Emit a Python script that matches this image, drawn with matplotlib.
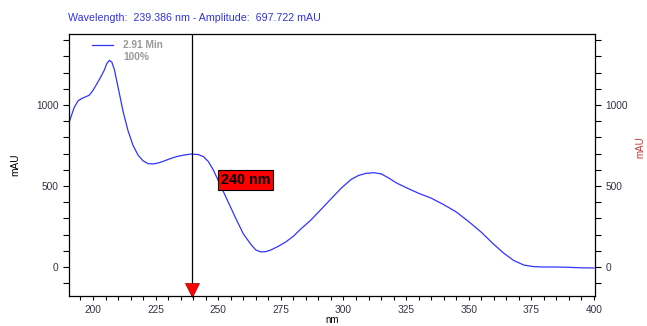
import matplotlib
matplotlib.use("Agg")
import matplotlib.pyplot as plt
import numpy as np
from matplotlib.ticker import MultipleLocator

plt.rcParams["font.family"] = ["Liberation Sans", "DejaVu Sans"]

# spectrum
wavelength = [190.4, 191.5, 192.5, 194, 195.5, 197, 198.5, 200, 201.5, 203, 204.5, 205.5,
              206.5, 207.5, 208.5, 210, 212, 214, 216, 218, 220, 222, 224, 226, 228,
              230, 233, 236, 239, 242, 244, 246, 248, 251, 254, 257, 260, 263, 265,
              267, 269, 271, 274, 277, 280, 283, 287, 291, 295, 299, 303, 306, 309,
              312, 315, 318, 321, 325, 330, 335, 340, 345, 350, 355, 360, 364, 368,
              372, 376, 380, 385, 390, 395, 400]
amplitude = [889, 940, 985, 1025, 1040, 1050, 1060, 1090, 1130, 1170, 1215, 1255,
             1275, 1265, 1220, 1110, 960, 840, 750, 690, 655, 638, 636, 642, 652,
             664, 680, 690, 697, 694, 682, 652, 600, 500, 400, 300, 205, 140, 105,
             93, 95, 105, 128, 155, 190, 235, 290, 355, 420, 485, 540, 565, 578,
             582, 575, 550, 520, 490, 455, 425, 385, 340, 280, 215, 140, 85, 40,
             12, 2, 0, 0, -2, -5, -6]

cursor_nm = 239.386
title_text = "Wavelength:  239.386 nm - Amplitude:  697.722 mAU"
legend_lines = ["2.91 Min", "100%"]

fig = plt.figure(figsize=(6.47, 3.26), dpi=100)
ax = fig.add_axes([0.1066, 0.092, 0.813, 0.8037])

ax.plot(wavelength, amplitude, color="#3333ff", lw=0.9)
ax.set_xlim(190.4, 400.4)
ax.set_ylim(-179, 1438)

ax.axvline(cursor_nm, color="black", lw=0.9)
ax.plot([cursor_nm], [-140], marker="v", color="#ff0000", markersize=10,
        markeredgecolor="#990000", markeredgewidth=0.5, clip_on=False)
ax.text(251, 512, "240 nm", fontsize=10.3, fontweight="bold", color="black",
        bbox=dict(boxstyle="square,pad=0.18", fc="#ff0000", ec="black", lw=0.8))

ax.xaxis.set_major_locator(MultipleLocator(25))
ax.xaxis.set_minor_locator(MultipleLocator(5))
ax.yaxis.set_major_locator(MultipleLocator(500))
ax.yaxis.set_minor_locator(MultipleLocator(100))
ax.tick_params(axis="both", which="both", labelsize=7.3, labelcolor="#333344",
               direction="out", length=3, width=0.8)
ax.tick_params(axis="y", which="both", right=True, labelright=True, length=4)
ax.tick_params(axis="x", which="both", top=False)
for s in ax.spines.values():
    s.set_linewidth(0.9)

ax.set_ylabel("mAU", fontsize=7.3, labelpad=11)
ax.set_xlabel("nm", fontsize=7, va="top")
ax.xaxis.set_label_coords(0.5, -0.072)
fig.text(0.99, 0.55, "mAU", rotation=90, fontsize=7, ha="center", va="center", color="#cc3333")

fig.text(0.105, 0.945, title_text, fontsize=7.7, color="#3333dd", va="center")

# legend drawn by hand
ax.plot([199.5, 208], [1370, 1370], color="#3333ff", lw=0.9)
ax.text(212, 1370, legend_lines[0], fontsize=7.3, fontweight="bold", color="#999999", va="center")
ax.text(212, 1295, legend_lines[1], fontsize=7.3, fontweight="bold", color="#999999", va="center")

fig.savefig("out.png", dpi=100)
